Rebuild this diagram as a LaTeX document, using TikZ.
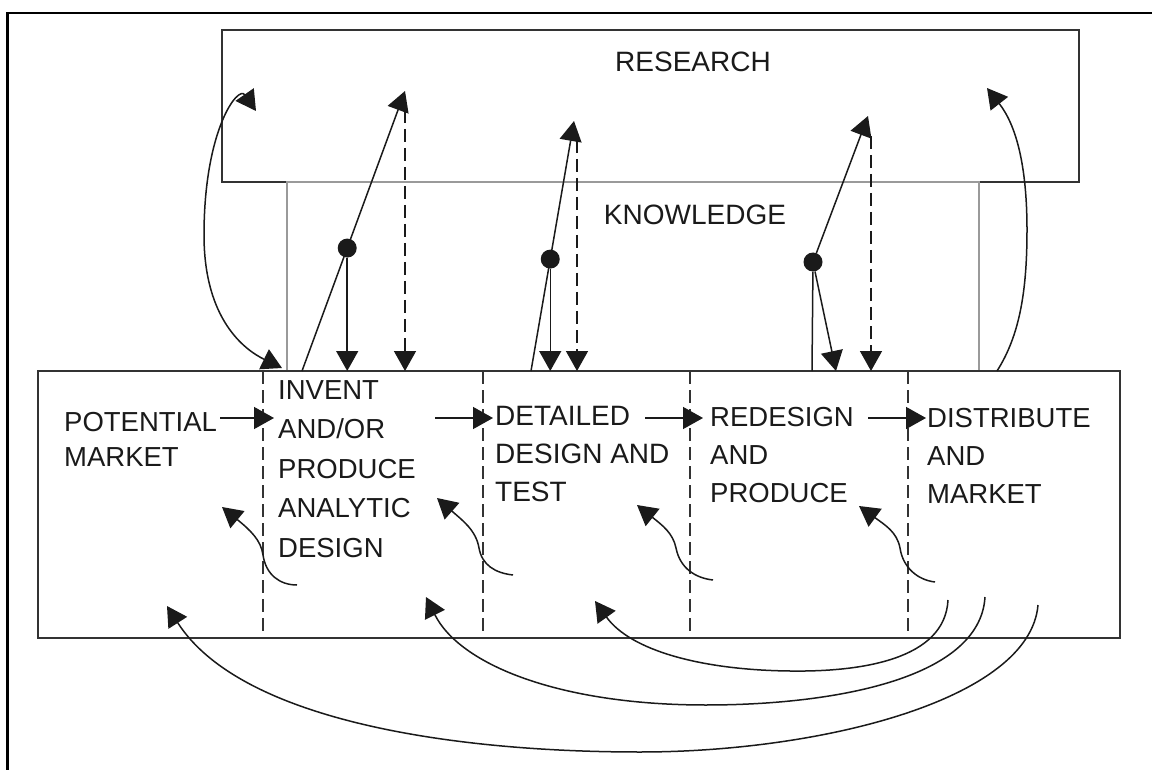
\documentclass[tikz,border=0pt]{standalone}
\usepackage{fontspec}
\setmainfont{Liberation Sans}
\usetikzlibrary{arrows.meta,calc}
\definecolor{ink}{HTML}{1A1A1A}
\definecolor{boxline}{HTML}{333333}
\definecolor{knowline}{HTML}{9A9A9A}
\begin{document}
\begin{tikzpicture}[x=1pt,y=-1pt,
  tri/.tip={Triangle[length=20pt,width=22pt]},
  frame/.style={line width=2.4pt, draw=black},
  region/.style={draw, inner sep=0pt, outer sep=0pt, anchor=north west},
  lbl/.style={text=ink, inner sep=0pt, align=left, anchor=north west,
              font=\fontsize{27.5}{38}\selectfont},
  link/.style={line width=1.5pt, draw=ink},
  arr/.style={link, -tri},
  dlink/.style={link, dash pattern=on 13pt off 6pt, -tri},
  stage/.style={line width=1.8pt, draw=boxline, dash pattern=on 13pt off 6pt},
  dot/.style={circle, fill=ink, inner sep=0pt, minimum size=19pt}
]
\useasboundingbox (0,0) rectangle (1152,770);
\fill[white] (0,0) rectangle (1152,770);

% outer frame
\draw[frame] (7.5,770) -- (7.5,13) -- (1152,13);

% research and knowledge regions, chain of stages
\node[region, line width=2pt, draw=boxline, minimum width=857pt, minimum height=152pt] (research) at (222,30) {};
\node[region, line width=2pt, draw=knowline, minimum width=692pt, minimum height=189pt] (knowledge) at (287,182) {};
\node[region, line width=2.4pt, draw=boxline, minimum width=1082pt, minimum height=267pt] (chain) at (38,371) {};

\node[lbl, anchor=north, font=\fontsize{28}{34}\selectfont] (researchlbl) at (693,52) {RESEARCH};
\node[lbl, anchor=north, font=\fontsize{28}{34}\selectfont] (knowlbl) at (695,205) {KNOWLEDGE};

% stage boundaries
\foreach \x/\n in {263/s1,483/s2,690/s3,908/s4}{
  \coordinate (\n top) at (\x,371);
  \coordinate (\n bot) at (\x,636);
  \draw[stage] (\n top) -- (\n bot);
}

% stage labels
\node[lbl, font=\fontsize{27.5}{35}\selectfont] (market) at (64,412) {POTENTIAL\\MARKET};
\node[lbl, font=\fontsize{27.5}{39.5}\selectfont] (invent) at (278,380) {INVENT\\AND/OR\\PRODUCE\\ANALYTIC\\DESIGN};
\node[lbl, font=\fontsize{28}{38}\selectfont] (detail) at (495,406) {DETAILED\\DESIGN AND\\TEST};
\node[lbl] (redesign) at (710,407) {REDESIGN\\AND\\PRODUCE};
\node[lbl] (distrib) at (927,408) {DISTRIBUTE\\AND\\MARKET};

% central chain of innovation
\coordinate (c0s) at (220,418); \coordinate (c0e) at (274,418);
\coordinate (c1s) at (435,418); \coordinate (c1e) at (493,418);
\coordinate (c2s) at (645,418); \coordinate (c2e) at (703,418);
\coordinate (c3s) at (868,418); \coordinate (c3e) at (926,418);
\draw[arr] (c0s) -- (c0e);
\draw[arr] (c1s) -- (c1e);
\draw[arr] (c2s) -- (c2e);
\draw[arr] (c3s) -- (c3e);

% links to knowledge and research
\coordinate (k1b) at (302,371); \coordinate (k1t) at (405,91);
\node[dot] (k1) at ($(k1b)!0.439!(k1t)$) {};
\draw[arr] (k1b) -- (k1t);
\draw[arr] (k1) -- (k1 |- chain.north);
\coordinate (r1t) at (405,110);
\draw[dlink] (r1t) -- (r1t |- chain.north);

\coordinate (k2b) at (531,371); \coordinate (k2t) at (574,121);
\node[dot] (k2) at ($(k2b)!0.4476!(k2t)$) {};
\draw[arr] (k2b) -- (k2t);
\draw[arr] (k2) -- (k2 |- chain.north);
\coordinate (r2t) at (577,140);
\draw[dlink] (r2t) -- (r2t |- chain.north);

\coordinate (k3b) at (812,371); \coordinate (k3t) at (868,116);
\node[dot] (k3) at (813,262) {};
\draw[link] (k3b) -- (k3);
\draw[arr] (k3) -- (k3t);
\coordinate (k3d) at (836,371);
\draw[arr] (k3) -- (k3d);
\coordinate (r3t) at (871,136);
\draw[dlink] (r3t) -- (r3t |- chain.north);

% direct links between research and the chain
\coordinate (lb) at (282,368); \coordinate (lt) at (256,111);
\draw[link, tri-tri] (lb) .. controls (245,350) and (204,320) .. (204,235)
  .. controls (204,130) and (238,85) .. (lt);
\coordinate (rb) at (997,371); \coordinate (rt) at (987,88);
\draw[arr] (rb) .. controls (1020,335) and (1027,290) .. (1027,230)
  .. controls (1027,165) and (1016,125) .. (rt);

% feedback loops within the chain
\coordinate (f1s) at (297,585); \coordinate (f1e) at (222,507);
\draw[arr] (f1s) .. controls (280,585) and (266,575) .. (263,555)
  .. controls (261,540) and (250,530) .. (f1e);
\coordinate (f2s) at (513,575); \coordinate (f2e) at (437,498);
\draw[arr] (f2s) .. controls (495,573) and (482,565) .. (479,548)
  .. controls (476,530) and (462,520) .. (f2e);
\coordinate (f3s) at (713,580); \coordinate (f3e) at (637,505);
\draw[arr] (f3s) .. controls (695,578) and (680,568) .. (676,548)
  .. controls (673,533) and (662,525) .. (f3e);
\coordinate (f4s) at (935,582); \coordinate (f4e) at (859,506);
\draw[arr] (f4s) .. controls (918,580) and (903,568) .. (900,548)
  .. controls (897,532) and (885,525) .. (f4e);

% long feedback loops from the market
\coordinate (F1s) at (948,600); \coordinate (F1e) at (595,601);
\draw[arr] (F1s) .. controls (945,660) and (860,672) .. (790,671)
  .. controls (700,670) and (630,650) .. (F1e);
\coordinate (F2s) at (985,597); \coordinate (F2e) at (426,597);
\draw[arr] (F2s) .. controls (980,680) and (830,705) .. (706,705)
  .. controls (560,705) and (460,665) .. (F2e);
\coordinate (F3s) at (1038,605); \coordinate (F3e) at (167,606);
\draw[arr] (F3s) .. controls (1030,700) and (820,752) .. (640,752)
  .. controls (450,752) and (240,720) .. (F3e);
\end{tikzpicture}
\end{document}
